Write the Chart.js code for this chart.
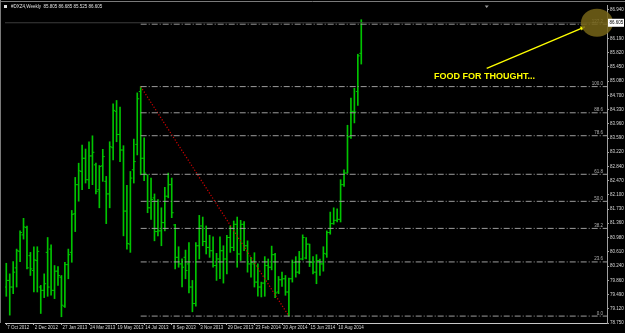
<!DOCTYPE html>
<html><head><meta charset="utf-8">
<script src="https://cdn.jsdelivr.net/npm/chart.js@4.4.1/dist/chart.umd.min.js"></script>
<style>html,body{margin:0;padding:0;background:#000;overflow:hidden}</style>
</head><body><canvas id="c" width="625" height="333"></canvas>
<script>
// Weekly OHLC bars, week 0 = 7 Oct 2012
const opens = [79.691,79.864,79.691,80.192,80.624,81.056,81.246,80.512,80.123,80.383,79.691,79.604,80.598,80.684,79.604,80.106,79.950,79.190,80.278,80.598,81.609,82.369,82.715,83.060,82.499,83.121,82.888,82.240,82.862,82.456,82.127,83.337,84.287,83.683,83.276,81.678,80.814,82.758,83.423,84.806,83.060,82.628,81.764,82.024,81.142,81.160,81.376,82.067,82.369,81.315,80.469,80.296,80.469,
80.296,79.691,79.259,80.771,81.289,80.883,80.728,80.641,80.253,80.425,80.641,80.425,80.987,80.728,81.332,80.555,81.332,80.771,80.296,80.296,79.820,79.691,79.794,80.253,80.209,80.538,79.561,79.881,79.907,79.561,79.907,80.339,80.080,80.425,80.451,80.814,80.339,80.080,80.382,80.296,80.555,81.117,81.350,81.436,81.462,82.369,82.672,83.622,84.287,84.806,85.805];
const highs = [80.313,80.036,80.357,80.684,81.160,81.488,81.289,80.598,80.745,80.745,79.734,80.036,80.987,80.797,80.253,80.226,79.993,80.339,80.684,81.695,82.559,82.931,83.406,83.302,83.492,83.648,82.931,82.870,83.294,82.585,83.492,84.486,84.572,84.400,83.389,82.352,82.715,83.562,84.771,84.935,83.596,82.628,82.542,82.127,81.980,81.764,82.300,82.672,82.542,81.333,80.745,80.426,80.658,
80.857,79.864,80.857,81.566,81.522,81.289,81.047,81.004,80.572,81.004,80.771,81.047,81.289,81.419,81.522,81.436,81.402,80.900,80.468,80.589,80.296,79.820,80.486,80.425,80.762,80.572,79.967,80.080,79.993,79.924,80.399,80.486,80.624,81.056,80.987,80.814,80.486,80.538,80.425,80.745,81.160,81.652,81.764,81.738,82.499,82.758,83.924,84.633,84.892,85.782,86.685];
const lows = [79.449,78.956,79.518,79.691,80.357,80.944,80.166,79.993,79.561,79.561,78.999,79.414,79.449,79.475,79.388,79.734,78.913,79.155,79.907,80.339,81.142,81.937,82.240,82.412,82.266,82.369,82.127,81.764,82.456,81.350,81.764,83.017,83.492,82.974,81.030,80.684,80.598,82.412,83.147,82.628,82.473,81.635,81.462,80.900,81.030,80.771,81.160,82.024,81.505,80.166,80.209,79.691,79.907,
79.535,79.043,79.190,80.425,80.771,80.555,80.468,80.209,79.864,79.907,79.794,80.037,80.598,80.641,80.209,80.382,80.641,80.080,79.950,79.691,79.449,79.432,79.449,79.881,80.140,79.414,79.518,79.708,79.475,78.931,79.820,79.950,80.037,80.399,80.425,80.226,80.037,79.777,79.993,80.106,80.468,81.073,81.332,81.393,81.393,82.326,82.672,83.579,83.985,84.443,85.525];
const closes = [79.864,79.691,80.080,80.641,81.116,81.263,80.192,80.166,80.400,80.624,79.604,79.777,79.691,79.604,80.106,79.993,79.216,80.278,80.538,81.592,82.369,82.732,83.060,82.499,83.121,83.216,82.196,82.844,83.104,82.127,83.363,84.313,83.683,83.276,81.678,80.831,82.542,82.974,84.616,83.060,82.672,81.764,81.980,81.142,81.160,81.376,82.067,82.369,81.635,80.469,80.296,80.209,80.123,
79.691,79.259,80.771,81.289,80.883,80.728,80.641,80.253,80.425,80.641,80.425,80.987,80.728,81.332,80.555,81.332,80.771,80.296,80.339,79.820,79.691,79.794,80.253,80.209,80.538,79.535,79.881,79.907,79.561,79.907,80.339,80.080,80.425,80.987,80.814,80.339,80.080,80.382,80.296,80.572,81.117,81.350,81.436,81.462,82.369,82.672,83.622,84.287,84.270,85.739,86.605];

const dateTickIndex = [0,8,16,24,32,40,48,56,64,72,80,88,96];
const dateTickLabels = ["7 Oct 2012","2 Dec 2012","27 Jan 2013","24 Mar 2013","19 May 2013","14 Jul 2013","8 Sep 2013","3 Nov 2013","29 Dec 2013","23 Feb 2014","20 Apr 2014","15 Jun 2014","10 Aug 2014"];
const priceTicks = [78.75,79.12,79.49,79.86,80.24,80.61,80.98,81.36,81.73,82.10,82.47,82.84,83.22,83.59,83.96,84.33,84.70,85.08,85.45,85.82,86.19,86.57,86.94];

const fibLabels = ["0.0","23.6","38.2","50.0","61.8","78.6","88.6","100.0","127.2"];
const fibPrices = [78.931,80.348,81.225,81.933,82.641,83.650,84.250,84.935,86.568];
const fibHighIndex = 39, fibLowIndex = 82;
const lastPrice = 86.605;
const titleText = "#DXZ4,Weekly  85.805 86.685 85.525 86.605";
const noteText = "FOOD FOR THOUGHT...";

const xMin = -0.375, xMax = 174.3, yMin = 78.75, yMax = 87.07;
const BAR = '#00c400';

const datasets = [];
datasets.push({type:'line', data:[{x:xMin,y:lastPrice},{x:xMax,y:lastPrice}], borderColor:'#3c3c3c', borderWidth:1, pointRadius:0});
fibPrices.forEach(p => datasets.push({type:'line', data:[{x:fibHighIndex,y:p},{x:xMax,y:p}], borderColor:'#9c9c9c', borderWidth:1, borderDash:[6,2,1,2], pointRadius:0}));
datasets.push({type:'line', data:[{x:fibHighIndex,y:fibPrices[7]},{x:fibLowIndex,y:fibPrices[0]}], borderColor:'#d00000', borderWidth:1.2, borderDash:[1.2,1.8], pointRadius:0});
datasets.push({type:'bar', data: highs.map((h,i)=>({x:i,y:[lows[i],h]})), backgroundColor:BAR, barThickness:1, grouped:false});
datasets.push({type:'scatter', data: opens.map((o,i)=>({x:i-0.3,y:o})), pointStyle:'line', pointRadius:0.9, pointBorderWidth:1, borderColor:BAR, pointBorderColor:BAR});
datasets.push({type:'scatter', data: closes.map((c,i)=>({x:i+0.3,y:c})), pointStyle:'line', pointRadius:0.9, pointBorderWidth:1, borderColor:BAR, pointBorderColor:BAR});

const bg = {id:'bg', beforeDraw(ch){const c=ch.ctx;c.save();c.fillStyle='#000';c.fillRect(0,0,ch.width,ch.height);c.restore();}};
const annot = {id:'annot', afterDraw(ch){
  const c = ch.ctx, xs = ch.scales.x, ys = ch.scales.y, a = ch.chartArea;
  c.save();
  // window frame
  c.strokeStyle='#7a7a7a'; c.lineWidth=1;
  c.beginPath(); c.moveTo(0,1.5); c.lineTo(ch.width,1.5); c.stroke();
  c.beginPath(); c.moveTo(0.5,0); c.lineTo(0.5,a.bottom); c.stroke();
  // fib labels
  c.fillStyle='#b0b0b0'; c.font='4.5px "Liberation Sans", Arial'; c.textAlign='right'; c.textBaseline='bottom';
  fibPrices.forEach((p,i)=>{ c.fillText(fibLabels[i], a.right-4, ys.getPixelForValue(p)-0.5); });
  // title
  c.fillStyle='#e0e0e0'; c.fillRect(4,5,3,3);
  c.font='4.5px "Liberation Sans", Arial'; c.textAlign='left'; c.textBaseline='middle';
  c.fillText(titleText, 11, 6.5);
  // chart shift marker
  c.fillStyle='#9a9a9a'; const mx = xs.getPixelForValue(139.4);
  c.beginPath(); c.moveTo(mx-2,a.top+0.5); c.lineTo(mx+2,a.top+0.5); c.lineTo(mx,a.top+3); c.closePath(); c.fill();
  // yellow arrow
  const x1 = xs.getPixelForValue(139.4), y1 = ys.getPixelForValue(85.41);
  const x2 = xs.getPixelForValue(167.9), y2 = ys.getPixelForValue(86.50);
  c.strokeStyle='#ffff00'; c.fillStyle='#ffff00'; c.lineWidth=1.3;
  c.beginPath(); c.moveTo(x1,y1); c.lineTo(x2,y2); c.stroke();
  const ang = Math.atan2(y2-y1,x2-x1);
  c.beginPath(); c.moveTo(x2,y2); c.lineTo(x2-5*Math.cos(ang-0.45),y2-5*Math.sin(ang-0.45)); c.lineTo(x2-5*Math.cos(ang+0.45),y2-5*Math.sin(ang+0.45)); c.closePath(); c.fill();
  // note text
  c.font='bold 9px "Liberation Sans", Arial'; c.textAlign='left'; c.textBaseline='middle';
  c.fillText(noteText, xs.getPixelForValue(124.1), ys.getPixelForValue(85.20));
  // olive circle
  const cx = xs.getPixelForValue(171.4), cy = ys.getPixelForValue(lastPrice);
  c.fillStyle='rgba(118,100,24,0.85)';
  c.beginPath(); c.ellipse(cx, cy, 16, 14, 0, 0, Math.PI*2); c.fill();
  // last price box
  const py = ys.getPixelForValue(lastPrice);
  c.fillStyle='#ffffff'; c.fillRect(a.right+1, py-4, 16, 8);
  c.fillStyle='#000'; c.font='4.5px "Liberation Sans", Arial'; c.textAlign='left'; c.textBaseline='middle';
  c.fillText(lastPrice.toFixed(3), a.right+2.5, py+0.3);
  c.restore();
}};

new Chart(document.getElementById('c'), {
  type:'bar',
  data:{datasets},
  options:{
    responsive:false, animation:false, devicePixelRatio:1,
    layout:{padding:{left:1,top:2,right:0,bottom:0}},
    plugins:{legend:{display:false}, tooltip:{enabled:false}},
    events:[],
    scales:{
      x:{type:'linear', min:xMin, max:xMax, offset:false,
        afterFit(s){s.height=10;},
        afterBuildTicks(s){s.ticks=dateTickIndex.map(v=>({value:v}));},
        grid:{drawOnChartArea:false, offset:false, tickLength:2, color:'#b0b0b0'},
        border:{display:true, color:'#c8c8c8'},
        ticks:{autoSkip:false, maxRotation:0, align:'start', labelOffset:1, padding:0, color:'#d8d8d8', font:{size:4.5, family:'"Liberation Sans", Arial'}, callback:(v,i)=>dateTickLabels[i]}
      },
      y:{type:'linear', position:'right', min:yMin, max:yMax,
        afterFit(s){s.width=18;},
        afterBuildTicks(s){s.ticks=priceTicks.map(v=>({value:v}));},
        grid:{drawOnChartArea:false, tickLength:2, color:'#a0a0a0'},
        border:{display:true, color:'#a0a0a0'},
        ticks:{autoSkip:false, padding:1, color:'#d8d8d8', font:{size:4.5, family:'"Liberation Sans", Arial'}, callback:v=>v.toFixed(3)}
      }
    }
  },
  plugins:[bg, annot]
});
</script></body></html>
